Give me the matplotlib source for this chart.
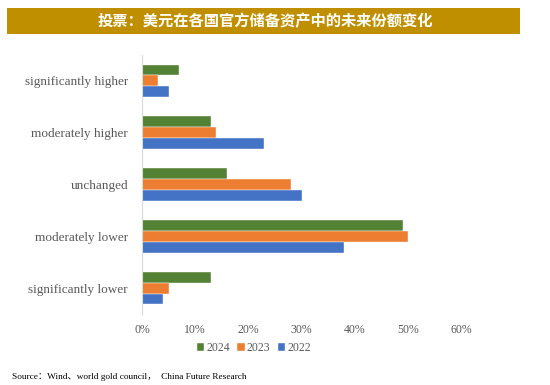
import numpy as np
import matplotlib.pyplot as plt
from matplotlib.patches import Rectangle

# data
categories = ['significantly higher', 'moderately higher', 'unchanged',
              'moderately lower', 'significantly lower']
years = ['2024', '2023', '2022']
v2024 = [0.07, 0.13, 0.16, 0.49, 0.13]
v2023 = [0.03, 0.14, 0.28, 0.50, 0.05]
v2022 = [0.05, 0.23, 0.30, 0.38, 0.04]
xticks = [0, 0.1, 0.2, 0.3, 0.4, 0.5, 0.6]

colors = ['#548235', '#ED7D31', '#4472C4']
serif = ['Liberation Serif', 'Noto Sans CJK SC']
gray = '#595959'

fig = plt.figure(figsize=(5.5, 3.85), dpi=100)

# title banner
fig.patches.append(Rectangle((7/550, 1-34/385), 513/550, 26/385, transform=fig.transFigure,
                             facecolor='#BF8F00', edgecolor='none'))
fig.text(265/550, 1-21/385, '投票：美元在各国官方储备资产中的未来份额变化', color='white',
         fontsize=11, fontweight='bold', family=['Noto Sans CJK SC'], ha='center', va='center')

ax = fig.add_axes([142/550, 1-314/385, 319/550, 259/385])
y = np.arange(len(categories))
h = 0.21
for i, (vals, c, lab) in enumerate(zip([v2024, v2023, v2022], colors, years)):
    ax.barh(y + (i - 1) * h, vals, height=h, color=c, label=lab,
            edgecolor='white', linewidth=0.3)

ax.set_ylim(len(categories) - 0.5, -0.5)
ax.set_xlim(0, 0.6)
ax.set_yticks(y)
ax.set_yticklabels(categories, family=serif, fontsize=9.5, color=gray)
ax.set_xticks(xticks)
ax.set_xticklabels([f'{int(t*100)}%' for t in xticks], family=serif, fontsize=8.5, color=gray)
ax.tick_params(axis='y', length=0, pad=10)
ax.tick_params(axis='x', length=0, pad=7)
for s in ['top', 'right', 'bottom']:
    ax.spines[s].set_visible(False)
ax.spines['left'].set_color('#D9D9D9')

leg = fig.legend(loc='center', bbox_to_anchor=(254/550, 1-348/385), ncol=3, frameon=False,
                 handlelength=0.6, handleheight=0.6, handletextpad=0.2, columnspacing=0.6,
                 prop={'family': serif, 'size': 8.5})
for t in leg.get_texts():
    t.set_color(gray)

fig.text(12/550, 1-377/385, 'Source：Wind、world gold council，  China Future Research',
         fontsize=6.7, family=serif, ha='left', va='center', color='black')

fig.savefig('out.png', dpi=100)
